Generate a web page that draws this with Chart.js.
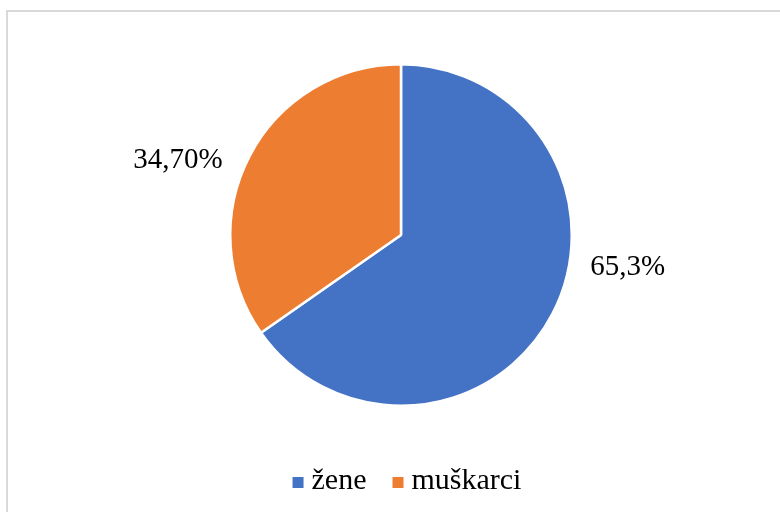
<!DOCTYPE html>
<html>
<head>
<meta charset="utf-8">
<script src="https://cdn.jsdelivr.net/npm/chart.js@4/dist/chart.umd.min.js"></script>
<style>
  html, body { margin: 0; padding: 0; background: #fff; overflow: hidden; }
  #wrap { position: relative; width: 780px; height: 512px; }
  #frame { position: absolute; left: 6px; top: 10px; width: 820px; height: 600px; border: 2px solid #d9d9d9; box-sizing: border-box; }
  canvas { position: absolute; left: 0; top: 0; }
</style>
</head>
<body>
<div id="wrap">
  <div id="frame"></div>
  <canvas id="c" width="780" height="512"></canvas>
</div>
<script>
const categories = ['žene', 'muškarci'];
const values = [65.3, 34.7];
const valueLabels = ['65,3%', '34,70%'];
const colors = ['#4472C4', '#ED7D31'];

const FONT = '"Liberation Serif", "Times New Roman", serif';

const labelPlugin = {
  id: 'sliceLabels',
  afterDatasetsDraw(chart, args, opts) {
    const ctx = chart.ctx;
    const meta = chart.getDatasetMeta(0);
    ctx.save();
    ctx.font = opts.size + 'px ' + FONT;
    ctx.fillStyle = '#000';
    ctx.textAlign = 'center';
    ctx.textBaseline = 'alphabetic';
    meta.data.forEach((arc, i) => {
      const a = opts.angles[i] * Math.PI / 180;
      const r = arc.outerRadius + opts.offsets[i];
      const x = arc.x + r * Math.cos(a);
      const y = arc.y + r * Math.sin(a);
      ctx.fillText(valueLabels[i], x, y + opts.size * 0.338);
    });
    ctx.restore();
  }
};

const legendPlugin = {
  id: 'customLegend',
  afterDraw(chart, args, opts) {
    const ctx = chart.ctx;
    ctx.save();
    ctx.font = opts.size + 'px ' + FONT;
    ctx.textBaseline = 'alphabetic';
    ctx.textAlign = 'left';
    const box = opts.box, gap = opts.gap, spacing = opts.spacing;
    const widths = categories.map(t => ctx.measureText(t).width);
    let total = 0;
    widths.forEach((w, i) => { total += box + gap + w + (i < widths.length - 1 ? spacing : 0); });
    let x = opts.centerX - total / 2;
    const base = opts.baseline;
    categories.forEach((t, i) => {
      ctx.fillStyle = colors[i];
      ctx.fillRect(x, base - 12, box, box);
      x += box + gap;
      ctx.fillStyle = '#000';
      ctx.fillText(t, x, base);
      x += widths[i] + spacing;
    });
    ctx.restore();
  }
};

new Chart(document.getElementById('c'), {
  type: 'pie',
  data: {
    labels: categories,
    datasets: [{
      data: values,
      backgroundColor: colors,
      borderColor: '#ffffff',
      borderWidth: 2.5,
      hoverOffset: 0
    }]
  },
  options: {
    responsive: false,
    animation: false,
    rotation: 0,
    layout: { padding: { left: 228, right: 206, top: 63, bottom: 105 } },
    plugins: {
      legend: { display: false },
      tooltip: { enabled: false },
      sliceLabels: { size: 29, angles: [7.7, 198.9], offsets: [58, 65] },
      customLegend: { size: 30, box: 11, gap: 8, spacing: 26, centerX: 407, baseline: 489 }
    }
  },
  plugins: [labelPlugin, legendPlugin]
});
</script>
</body>
</html>
